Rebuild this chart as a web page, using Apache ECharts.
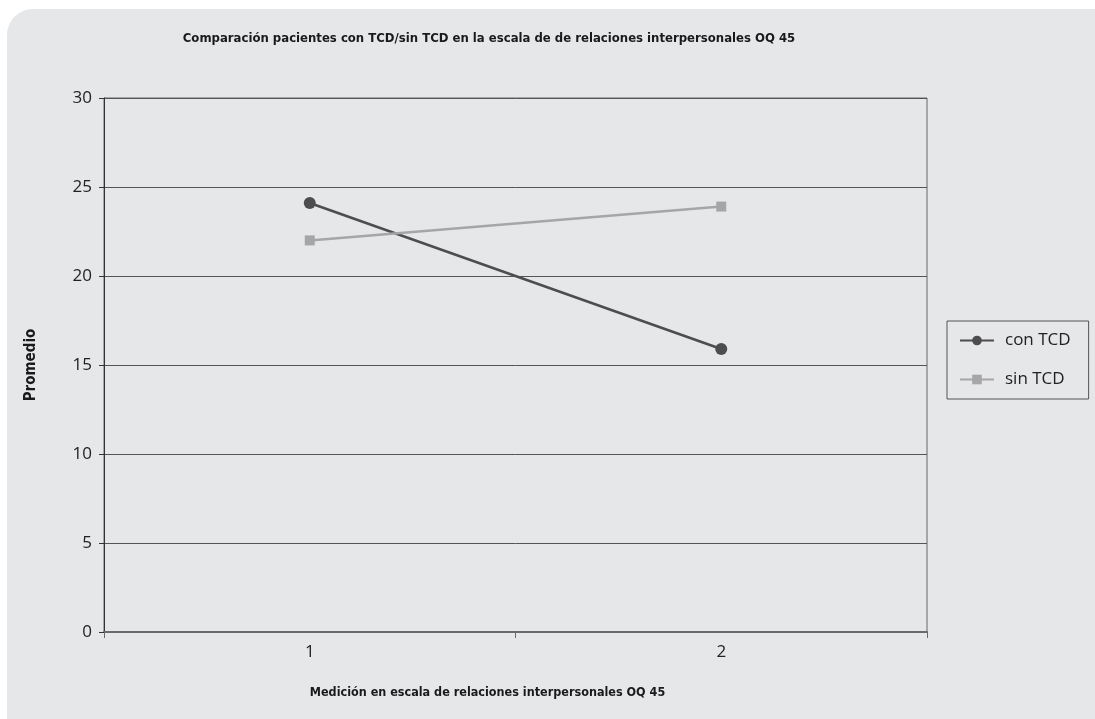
<!DOCTYPE html>
<html><head><meta charset="utf-8">
<script src="https://cdn.jsdelivr.net/npm/echarts@6/dist/echarts.min.js"></script>
<style>html,body{margin:0;padding:0;background:#fff}#c{width:1095px;height:719px}</style>
</head><body><div id="c"></div>
<script>
const categories = ['1', '2'];
const conTCD = [24.1, 15.9];
const sinTCD = [22.0, 23.9];
const seriesNames = ['con TCD', 'sin TCD'];
const titleText = 'Comparación pacientes con TCD/sin TCD en la escala de de relaciones interpersonales OQ 45';
const xName = 'Medición en escala de relaciones interpersonales OQ 45';
const yName = 'Promedio';

const condFont = "'Liberation Sans Narrow', 'DejaVu Sans Condensed', 'Roboto Condensed', sans-serif";
const regFont = "'Open Sans', 'Noto Sans', sans-serif";

const chart = echarts.init(document.getElementById('c'));
chart.setOption({
  animation: false,
  backgroundColor: '#ffffff',
  graphic: [{
    type: 'rect', z: -10, silent: true,
    shape: { x: 7, y: 9, width: 1120, height: 740, r: 26 },
    style: { fill: '#e6e7e9' }
  }],
  title: {
    text: titleText, left: 484, top: 27, textAlign: 'center',
    textStyle: { fontFamily: condFont, fontWeight: 'bold', fontSize: 13, color: '#1a1a1a' }
  },
  grid: { left: 104, right: 168, top: 98, bottom: 87, show: true, borderColor: '#666', borderWidth: 1, backgroundColor: 'transparent' },
  legend: {
    orient: 'vertical', left: 947, top: 321,
    padding: [9, 18, 9, 12], itemGap: 18, itemWidth: 34, itemHeight: 12,
    borderColor: '#555', borderWidth: 1, backgroundColor: 'transparent',
    textStyle: { fontFamily: regFont, fontSize: 17, color: '#222', padding: [0, 0, 0, 6], lineHeight: 21 },
    data: seriesNames
  },
  xAxis: {
    type: 'category', data: categories, boundaryGap: true,
    name: xName, nameLocation: 'middle', nameGap: 54,
    nameTextStyle: { fontFamily: condFont, fontWeight: 'bold', fontSize: 12.5, color: '#1a1a1a', padding: [0, 56, 0, 0] },
    axisLine: { lineStyle: { color: '#6a6a6a', width: 2 } },
    axisTick: { show: true, length: 6, lineStyle: { color: '#6a6a6a' }, alignWithLabel: false },
    axisLabel: { fontFamily: regFont, fontSize: 17, color: '#222', margin: 12 }
  },
  yAxis: {
    type: 'value', min: 0, max: 30, interval: 5,
    name: yName, nameLocation: 'middle', nameGap: 65, nameRotate: 90,
    nameTextStyle: { fontFamily: condFont, fontWeight: 'bold', fontSize: 15, color: '#1a1a1a' },
    axisLine: { show: true, lineStyle: { color: '#333', width: 1 } },
    axisTick: { show: true, length: 5, lineStyle: { color: '#333' } },
    axisLabel: { fontFamily: regFont, fontSize: 17, color: '#222', margin: 12 },
    splitLine: { show: true, lineStyle: { color: '#555', width: 1 } }
  },
  series: [
    { name: seriesNames[0], type: 'line', data: conTCD, symbol: 'circle', symbolSize: 12,
      lineStyle: { color: '#4d4d4f', width: 2.5 }, itemStyle: { color: '#4d4d4f' } },
    { name: seriesNames[1], type: 'line', data: sinTCD, symbol: 'rect', symbolSize: 10,
      lineStyle: { color: '#a6a6a8', width: 2.5 }, itemStyle: { color: '#a6a6a8' } }
  ]
});
</script></body></html>
